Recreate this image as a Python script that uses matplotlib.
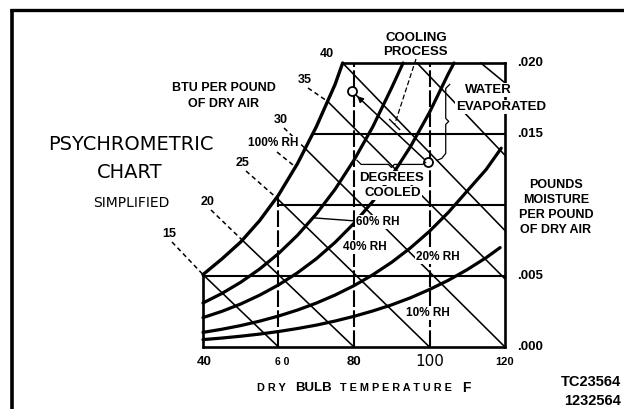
import matplotlib
matplotlib.use('Agg')
import matplotlib.pyplot as plt

# ---------------- data ----------------
temp_ticks = [40, 60, 80, 100, 120]
temp_tick_labels = ['40', '6 0', '80', '100', '120']
moist_ticks = [0.000, 0.005, 0.015, 0.020]
moist_tick_labels = ['.000', '.005', '.015', '.020']

# horizontal grid lines (moisture) and the temperature where each starts
grid_W = [0.005, 0.010, 0.015, 0.020]
grid_W_start_T = [40, 60, 69.5, 77]
# vertical grid lines (dry bulb) and the moisture where each stops
grid_T = [60, 80, 100]
grid_T_top_W = [0.0106, 0.0200, 0.0200]

# relative humidity curves
rh100_T = [40, 45, 50, 55, 60, 65, 70, 75, 77]
rh100_W = [0.0051, 0.0062, 0.0074, 0.0089, 0.0107, 0.0129, 0.0155, 0.0185, 0.0200]
rh60_T = [40, 45, 50, 55, 60, 65, 70, 75, 80, 85, 90, 93]
rh60_W = [0.00310, 0.00377, 0.00456, 0.00549, 0.00658, 0.00786, 0.00936, 0.01111,
          0.01316, 0.01552, 0.01827, 0.0200]
rh40_T = [40, 45, 50, 55, 60, 65, 70, 75, 80, 85, 90, 95, 100, 105, 106.5]
rh40_W = [0.00207, 0.00251, 0.00303, 0.00365, 0.00437, 0.00522, 0.00621, 0.00737,
          0.00871, 0.01026, 0.01206, 0.01413, 0.01652, 0.01925, 0.0200]
rh20_T = [40, 45, 50, 55, 60, 65, 70, 75, 80, 85, 90, 95, 100, 105, 110, 115, 119]
rh20_W = [0.00103, 0.00125, 0.00151, 0.00182, 0.00218, 0.00260, 0.00309, 0.00366,
          0.00432, 0.00509, 0.00597, 0.00699, 0.00815, 0.00948, 0.01099, 0.01250, 0.01400]
rh10_T = [40, 45, 50, 55, 60, 65, 70, 75, 80, 85, 90, 95, 100, 105, 110, 115, 118.7]
rh10_W = [0.00052, 0.00063, 0.00076, 0.00091, 0.00109, 0.00130, 0.00154, 0.00183,
          0.00216, 0.00254, 0.00297, 0.00347, 0.00405, 0.00470, 0.00545, 0.00629, 0.00700]

# enthalpy lines (BTU per pound of dry air): start / end points
enth_values = [15, 20, 25, 30, 35, 40, 45, 50]
enth_start_T = [40, 50.5, 59.5, 67, 73, 77, 96.7, 113.6]
enth_start_W = [0.0051, 0.0075, 0.0105, 0.0140, 0.0173, 0.0200, 0.0200, 0.0200]
enth_end_T = [60, 80, 100, 120, 120, 120, 120, 120]
enth_end_W = [0.0, 0.0, 0.0, 0.0, 0.0048, 0.0082, 0.0135, 0.0186]

# evaporative cooling process (end state, start state)
process_T = [79.5, 99.5]
process_W = [0.0180, 0.0130]

# ---------------- figure ----------------
FW, FH = 624, 409
fig = plt.figure(figsize=(FW / 100, FH / 100), dpi=100)
fig.patch.set_facecolor('white')

XMIN, XMAX = -13.77, 151.52
YMIN, YMAX = -0.004366, 0.024437
ax = fig.add_axes([0, 0, 1, 1])
ax.set_xlim(XMIN, XMAX)
ax.set_ylim(YMIN, YMAX)
ax.axis('off')

ov = fig.add_axes([0, 0, 1, 1])
ov.set_xlim(0, FW)
ov.set_ylim(FH, 0)
ov.axis('off')


def tx(T):
    return (T - XMIN) / (XMAX - XMIN) * FW


def wy(W):
    return FH - (W - YMIN) / (YMAX - YMIN) * FH


K = 'black'
LF = 'Liberation Sans'

# chart frame
ax.plot([temp_ticks[0], temp_ticks[-1]], [0, 0], color=K, lw=1.9, solid_capstyle='round')
ax.plot([temp_ticks[0], temp_ticks[0]], [0, rh100_W[0]], color=K, lw=1.9)
ax.plot([temp_ticks[-1], temp_ticks[-1]], [0, moist_ticks[-1]], color=K, lw=1.9)

# horizontal grid lines
for W, t0 in zip(grid_W, grid_W_start_T):
    ax.plot([t0, temp_ticks[-1]], [W, W], color=K,
            lw=1.9 if W == grid_W[-1] else 1.5)

# vertical dashed lines
for T, wt in zip(grid_T, grid_T_top_W):
    ax.plot([T, T], [0, wt], color=K, lw=1.5, dashes=(8, 1.6))

# enthalpy lines
for t0, w0, t1, w1 in zip(enth_start_T, enth_start_W, enth_end_T, enth_end_W):
    ax.plot([t0, t1], [w0, w1], color=K, lw=1.15)

# RH curves
ax.plot(rh100_T, rh100_W, color=K, lw=2.4, solid_capstyle='round', solid_joinstyle='round')
for Ts, Ws in [(rh60_T, rh60_W), (rh40_T, rh40_W), (rh20_T, rh20_W), (rh10_T, rh10_W)]:
    ax.plot(Ts, Ws, color=K, lw=2.3, solid_capstyle='round', solid_joinstyle='round')

# cooling process
ax.plot(process_T, process_W, color=K, lw=1.1)
fa = 0.14
ax.annotate('', xy=(process_T[0] + 0.04 * (process_T[1] - process_T[0]),
                    process_W[0] + 0.04 * (process_W[1] - process_W[0])),
            xytext=(process_T[0] + fa * (process_T[1] - process_T[0]),
                    process_W[0] + fa * (process_W[1] - process_W[0])),
            arrowprops=dict(arrowstyle='-|>', color=K, lw=1.0, mutation_scale=9))
ax.plot(process_T, process_W, 'o', ms=6.5, mfc='white', mec=K, mew=1.3, zorder=5)

# ---------------- outer border ----------------
ov.plot([10, FW], [10, 10], color=K, lw=2.4, solid_capstyle='butt')
ov.plot([11.5, 11.5], [8.5, FH], color=K, lw=2.6, solid_capstyle='butt')

# ---------------- texts ----------------
WB = dict(facecolor='white', edgecolor='none', pad=0.8)


def lab(x, y, s, size=9, weight='bold', family=LF, ha='center', va='center', bbox=True, **kw):
    ov.text(x, y, s, fontsize=size, fontweight=weight, family=family, ha=ha, va=va,
            bbox=WB if bbox else None, zorder=10, **kw)


# dashed leaders from enthalpy labels
enth_label_pos = [(169, 234), (208, 202), (243, 163), (281, 120), (305, 80), (327, 54)]
for (lx, ly), t0, w0, v in zip(enth_label_pos, enth_start_T, enth_start_W, enth_values):
    if v == 40:
        continue
    ex, ey = tx(t0), wy(w0)
    sx, sy = lx + 3, ly + 8
    ov.plot([sx, ex], [sy, ey], color=K, lw=1.1, dashes=(3, 2.2), zorder=4)

# leader for 100% RH
ov.plot([277, tx(64.4)], [152, wy(0.0127)], color=K, lw=1.1, dashes=(3, 2.2), zorder=4)
# leader for 60% RH
ov.plot([tx(69), 356], [wy(0.0091), 221], color=K, lw=1.0, zorder=4)

# cooling process leader (dashed) with tick
pT = process_T[0] + 0.55 * (process_T[1] - process_T[0])
pW = process_W[0] + 0.55 * (process_W[1] - process_W[0])
ov.plot([416, tx(pT) + 1], [59, wy(pW) - 6], color=K, lw=0.9, dashes=(4, 2), zorder=4)
ov.plot([tx(pT) - 4, tx(pT) + 6], [wy(pW) - 11, wy(pW) - 1], color=K, lw=1.0, zorder=4)

# brace under DEGREES COOLED
bx0, bx1 = tx(process_T[0]) + 5, tx(process_T[1]) - 2
by = wy(process_W[1]) + 1
ov.plot([bx0, bx0 + 4, (bx0 + bx1) / 2 - 3, (bx0 + bx1) / 2, (bx0 + bx1) / 2 + 3, bx1 - 3, bx1],
        [by - 3, by + 1, by + 1, by + 4, by + 1, by + 1, by - 1], color=K, lw=0.9, zorder=4)
# brace for WATER EVAPORATED
wx = tx(104.3)
wy0, wy1 = wy(process_W[0]) - 5, wy(process_W[1]) - 6
ov.plot([wx + 4, wx, wx, wx + 3, wx, wx, wx - 4, wx - 9],
        [wy0 - 2, wy0 + 2, (wy0 + wy1) / 2 - 3, (wy0 + wy1) / 2, (wy0 + wy1) / 2 + 3,
         wy1 - 3, wy1 + 2, wy1 + 4], color=K, lw=0.9, zorder=4)

# titles
lab(224, 88, 'BTU PER POUND', size=9, bbox=False)
lab(223, 104, 'OF DRY AIR', size=9, bbox=False)
lab(131, 145, 'PSYCHROMETRIC', size=14, weight='normal', family='DejaVu Sans', bbox=False)
lab(130, 172, 'CHART', size=14, weight='normal', family='DejaVu Sans', bbox=False)
lab(131, 203, 'SIMPLIFIED', size=10, weight='normal', family='DejaVu Sans', bbox=False)

# enthalpy value labels
for (lx, ly), v in zip(enth_label_pos, enth_values):
    lab(lx, ly, str(v), size=9, bbox=False)

# RH labels
lab(273, 143, '100% RH', size=8.5)
lab(356, 222, '60% RH', size=8.5, ha='left')
lab(365, 247, '40% RH', size=8.5)
lab(438, 257, '20% RH', size=8.5)
lab(428, 313, '10% RH', size=8.5)

# process labels
lab(416, 38, 'COOLING', size=9.5, bbox=False)
lab(415, 52, 'PROCESS', size=9.5, bbox=False)
lab(488, 90, 'WATER', size=9.5)
lab(501, 107, 'EVAPORATED', size=9.5)
lab(392, 178, 'DEGREES', size=9.5)
lab(393, 193, 'COOLED', size=9.5)

# right axis
for W, s in zip(moist_ticks, moist_tick_labels):
    lab(517, wy(W), s, size=9.5, ha='left', bbox=False)
for i, s in enumerate(['POUNDS', 'MOISTURE', 'PER POUND', 'OF DRY AIR']):
    lab(556, 185 + 15 * i, s, size=9, bbox=False)

# bottom axis
tick_styles = {'40': (9.5, 'bold'), '6 0': (7.5, 'bold'), '80': (9.5, 'bold'),
               '100': (11, 'normal'), '120': (8, 'bold')}
for T, s in zip(temp_ticks, temp_tick_labels):
    sz, wt = tick_styles[s]
    xo = 4 if s == '6 0' else (1 if s == '40' else 0)
    lab(tx(T) + xo, 362, s, size=sz, weight=wt, bbox=False,
        family=('DejaVu Sans' if s == '100' else LF))

lab(257, 388, 'D R Y', size=7.8, ha='left', bbox=False)
lab(295, 388, 'BULB', size=9.5, ha='left', bbox=False)
lab(340, 388, 'T E M P E R A T U R E', size=7.8, ha='left', bbox=False)
lab(462, 388, 'F', size=10, ha='left', bbox=False)

lab(621, 382, 'TC23564', size=10.5, ha='right', bbox=False)
lab(621, 401, '1232564', size=10.5, ha='right', bbox=False)

fig.savefig('out.png', dpi=100, facecolor='white')
